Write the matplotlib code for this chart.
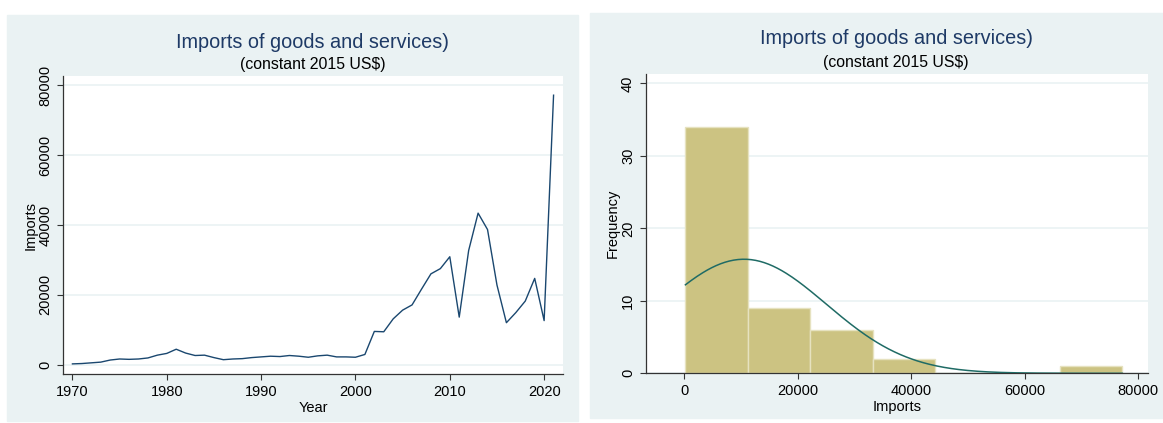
import numpy as np
import matplotlib
matplotlib.use("Agg")
import matplotlib.pyplot as plt
from matplotlib.patches import Rectangle

plt.rcParams["font.family"] = ["Liberation Sans", "DejaVu Sans"]

years = list(range(1970, 2022))
imports = [
    200, 300, 500, 700, 1300, 1600, 1500, 1600, 1900, 2700,
    3200, 4400, 3300, 2600, 2700, 2000, 1400, 1600, 1700, 2000,
    2200, 2400, 2300, 2600, 2400, 2100, 2500, 2700, 2200, 2200,
    2100, 2900, 9500, 9400, 13100, 15600, 17100, 21600, 26000, 27500,
    30900, 13600, 32700, 43400, 38700, 22800, 12000, 14900, 18200, 24700,
    12600, 77200,
]
line_yticks = [0, 20000, 40000, 60000, 80000]
line_xticks = [1970, 1980, 1990, 2000, 2010, 2020]
hist_yticks = [0, 10, 20, 30, 40]
hist_xticks = [0, 20000, 40000, 60000, 80000]
n_bins = 7

title = "Imports of goods and services)"
subtitle = "(constant 2015 US$)"

W, H = 1163, 423
BG = "#eaf2f3"
NAVY = "#1a476f"
TITLE_C = "#1e3a66"
GRID = "#eaf2f3"


def px_axes(fig, left, top, right, bottom):
    return fig.add_axes([left / W, (H - bottom) / H, (right - left) / W, (bottom - top) / H])


def style_axes(ax):
    ax.set_facecolor("white")
    for s in ("top", "right"):
        ax.spines[s].set_visible(False)
    for s in ("left", "bottom"):
        ax.spines[s].set_color("#333333")
        ax.spines[s].set_linewidth(0.9)
    ax.tick_params(direction="out", length=4.5, width=0.8, color="#333333",
                   labelsize=10.5, labelcolor="black", pad=3)
    ax.tick_params(axis="x", pad=3.5)
    ax.grid(axis="y", color=GRID, linewidth=1.2)
    ax.set_axisbelow(True)
    for lab in ax.get_yticklabels():
        lab.set_rotation(90)
        lab.set_va("center")


fig = plt.figure(figsize=(W / 100, H / 100), dpi=100)
fig.patch.set_facecolor("white")

# panel backgrounds
fig.add_artist(Rectangle((7 / W, (H - 421) / H), 571 / W, 406 / H,
                         transform=fig.transFigure, color=BG, zorder=0))
fig.add_artist(Rectangle((590 / W, (H - 418) / H), 573 / W, 405 / H,
                         transform=fig.transFigure, color=BG, zorder=0))

# line chart
ax1 = px_axes(fig, 63, 76, 563, 374)
ax1.plot(years, imports, color=NAVY, linewidth=1.0)
ax1.set_xlim(1969, 2022)
ax1.set_ylim(-2700, 82700)
ax1.set_xticks(line_xticks)
ax1.set_yticks(line_yticks)
style_axes(ax1)
ax1.set_xlabel("Year", fontsize=10.5, labelpad=1)
ax1.set_ylabel("Imports", fontsize=10.5, labelpad=1)
fig.text(313 / W, 1 - 42 / H, title, ha="center", va="center", fontsize=14.3, color=TITLE_C)
fig.text(313 / W, 1 - 65 / H, subtitle, ha="center", va="center", fontsize=11.4, color="black")

# histogram with normal density overlay
ax2 = px_axes(fig, 645.5, 74, 1148, 373.3)
data = np.array(imports, dtype=float)
counts, edges, _ = ax2.hist(data, bins=n_bins, range=(data.min(), data.max()),
                            color="#ccc382", edgecolor="#e6e2c0", linewidth=1.0, zorder=2)
width = edges[1] - edges[0]
mu, sd = data.mean(), data.std(ddof=1)
xs = np.linspace(data.min(), data.max(), 300)
dens = np.exp(-0.5 * ((xs - mu) / sd) ** 2) / (sd * np.sqrt(2 * np.pi))
ax2.plot(xs, dens * len(data) * width, color="#1f6b65", linewidth=1.1, zorder=3)
ax2.set_xlim(-6840, 81730)
ax2.set_ylim(0, 41.3)
ax2.set_xticks(hist_xticks)
ax2.set_yticks(hist_yticks)
style_axes(ax2)
ax2.set_xlabel("Imports", fontsize=10.5, labelpad=1)
ax2.set_ylabel("Frequency", fontsize=10.5, labelpad=1)
fig.text(896 / W, 1 - 39 / H, title, ha="center", va="center", fontsize=14.3, color=TITLE_C)
fig.text(896 / W, 1 - 63 / H, subtitle, ha="center", va="center", fontsize=11.4, color="black")

fig.savefig("out.png", dpi=100)
